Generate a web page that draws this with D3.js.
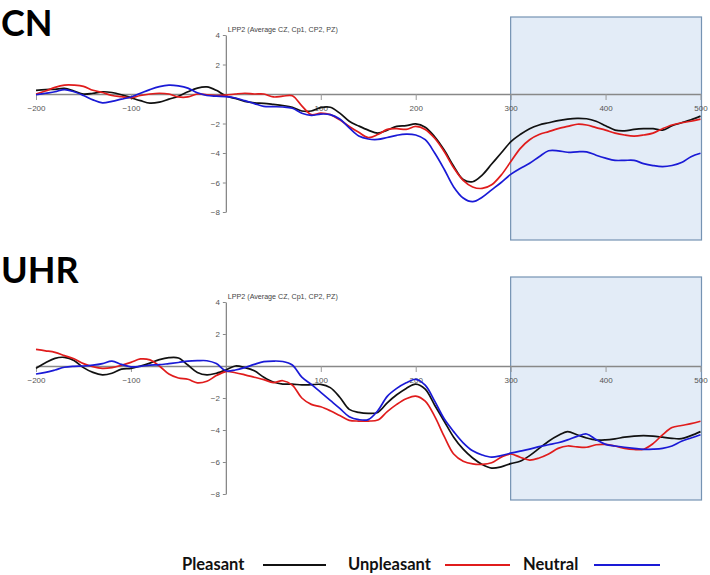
<!DOCTYPE html>
<html><head><meta charset="utf-8">
<script src="https://cdn.jsdelivr.net/npm/d3@7/dist/d3.min.js"></script>
<style>body{margin:0;background:#fff;}svg{display:block;}</style>
</head><body>
<svg id="c" width="710" height="575"></svg>
<script>
const times = d3.range(-200, 501, 10);
const xTicks = [-200, -100, 100, 200, 300, 400, 500];
const yTicks = [4, 2, -2, -4, -6, -8];
const panels = ["CN", "UHR"];
const seriesNames = ["Pleasant", "Unpleasant", "Neutral"];
const axisTitle = "LPP2 (Average CZ, Cp1, CP2, PZ)";

const cnPleasant = [0.25,0.3,0.32,0.38,0.2,0.0,0.05,0.15,0.1,-0.05,-0.25,-0.45,-0.62,-0.55,-0.35,-0.15,0.15,0.4,0.48,0.25,-0.14,-0.3,-0.5,-0.6,-0.63,-0.7,-0.78,-0.9,-1.15,-1.15,-0.92,-0.9,-1.3,-1.85,-2.17,-2.45,-2.65,-2.45,-2.2,-2.15,-2.03,-2.25,-2.9,-3.8,-4.9,-5.8,-5.95,-5.5,-4.75,-4.0,-3.25,-2.75,-2.35,-2.1,-1.95,-1.8,-1.7,-1.65,-1.68,-1.85,-2.15,-2.45,-2.5,-2.4,-2.35,-2.35,-2.45,-2.15,-1.95,-1.75,-1.5];
const cnUnpleasant = [0.0,0.2,0.45,0.6,0.6,0.52,0.25,0.1,-0.1,-0.18,-0.25,-0.1,0.0,0.05,0.0,-0.2,-0.2,0.0,-0.05,-0.1,-0.07,0.0,0.05,0.0,0.0,-0.2,-0.15,-0.12,-0.8,-1.4,-1.3,-1.4,-1.75,-2.2,-2.6,-2.95,-2.75,-2.4,-2.35,-2.4,-2.2,-2.4,-3.0,-3.9,-5.0,-5.85,-6.3,-6.4,-6.15,-5.5,-4.6,-3.7,-3.1,-2.75,-2.55,-2.35,-2.2,-2.05,-2.1,-2.28,-2.45,-2.65,-2.78,-2.85,-2.78,-2.65,-2.35,-2.1,-1.95,-1.85,-1.7];
const cnNeutral = [-0.05,0.05,0.15,0.3,0.15,-0.1,-0.4,-0.6,-0.5,-0.35,-0.2,0.05,0.3,0.5,0.6,0.55,0.4,0.08,-0.1,-0.15,-0.18,-0.27,-0.45,-0.65,-0.84,-0.86,-0.88,-0.97,-1.3,-1.45,-1.36,-1.4,-1.7,-2.3,-2.85,-3.05,-3.08,-2.95,-2.8,-2.72,-2.78,-3.1,-4.0,-5.1,-6.3,-7.05,-7.3,-7.0,-6.5,-6.0,-5.45,-5.05,-4.7,-4.25,-3.85,-3.85,-3.95,-3.92,-3.92,-4.15,-4.35,-4.5,-4.5,-4.5,-4.72,-4.85,-4.92,-4.85,-4.65,-4.25,-4.02];

const uhrPleasant = [-0.15,0.2,0.48,0.54,0.35,-0.1,-0.4,-0.55,-0.45,-0.2,-0.15,0.0,0.18,0.4,0.52,0.5,0.06,-0.4,-0.55,-0.45,-0.25,0.0,-0.1,-0.3,-0.7,-1.0,-1.13,-1.13,-1.18,-1.17,-1.15,-1.35,-1.95,-2.71,-2.9,-2.96,-2.9,-2.3,-1.8,-1.4,-1.13,-1.45,-2.45,-3.45,-4.45,-5.2,-5.75,-6.15,-6.38,-6.3,-6.1,-5.95,-5.6,-5.15,-4.7,-4.35,-4.1,-4.3,-4.5,-4.63,-4.62,-4.55,-4.45,-4.38,-4.35,-4.38,-4.45,-4.52,-4.54,-4.35,-4.1];
const uhrUnpleasant = [1.04,0.95,0.85,0.65,0.45,0.15,-0.05,-0.15,-0.1,0.05,0.23,0.44,0.38,0.0,-0.5,-0.75,-0.83,-1.05,-0.95,-0.6,-0.35,-0.42,-0.55,-0.7,-0.85,-1.04,-0.92,-1.19,-2.0,-2.4,-2.55,-2.8,-3.1,-3.4,-3.44,-3.44,-3.38,-2.85,-2.4,-2.05,-1.88,-2.2,-3.15,-4.4,-5.5,-5.95,-6.12,-6.15,-6.05,-5.7,-5.5,-5.7,-5.88,-5.75,-5.5,-5.15,-5.0,-5.06,-5.08,-4.92,-4.9,-5.0,-5.15,-5.22,-5.2,-4.85,-4.3,-3.85,-3.72,-3.6,-3.45];
const uhrNeutral = [-0.5,-0.4,-0.25,-0.08,-0.02,0.0,0.05,0.15,0.31,0.1,-0.05,-0.02,0.05,0.08,0.15,0.22,0.3,0.33,0.33,0.15,-0.3,-0.25,-0.1,0.1,0.27,0.31,0.28,0.06,-0.7,-1.15,-1.65,-2.15,-2.65,-3.17,-3.35,-3.35,-2.8,-1.9,-1.4,-1.05,-0.83,-1.2,-2.2,-3.3,-4.1,-4.8,-5.3,-5.56,-5.7,-5.6,-5.45,-5.32,-5.2,-5.04,-4.92,-4.8,-4.62,-4.4,-4.25,-4.6,-4.9,-5.0,-5.08,-5.15,-5.21,-5.2,-5.15,-5.0,-4.7,-4.5,-4.3];

const windowStart = 300, windowEnd = 500;
const colors = ["#111111", "#e01c1c", "#1a1ad6"];

const svg = d3.select("#c");
const x = d3.scaleLinear().domain([-200, 500]).range([36, 700.5]);

const layouts = [
  {title: panels[0], titleY: 36, yTop: 35, yBot: 212, boxTop: 17, boxBot: 240, data: [cnPleasant, cnUnpleasant, cnNeutral]},
  {title: panels[1], titleY: 283, yTop: 302, yBot: 494, boxTop: 277, boxBot: 500, data: [uhrPleasant, uhrUnpleasant, uhrNeutral]}
];

layouts.forEach(L => {
  const y = d3.scaleLinear().domain([4, -8]).range([L.yTop, L.yBot]);
  const g = svg.append("g");
  g.append("text").attr("x", 1).attr("y", L.titleY).text(L.title)
    .attr("font-family", "Lato, 'Open Sans', sans-serif").attr("font-weight", "bold")
    .attr("font-size", 36).attr("fill", "#000");
  // analysis window
  g.append("rect").attr("x", x(windowStart)).attr("y", L.boxTop)
    .attr("width", x(windowEnd) - x(windowStart) + 1).attr("height", L.boxBot - L.boxTop)
    .attr("fill", "#e3ecf7").attr("stroke", "#7593b3").attr("stroke-width", 1.2);
  // x axis
  const xa = g.append("g").attr("transform", `translate(0,${y(0)})`)
    .call(d3.axisBottom(x).tickValues(xTicks).tickSize(6).tickSizeOuter(0).tickPadding(5).tickFormat(d3.format("d")));
  xa.select(".domain").attr("stroke", "#888").attr("stroke-width", 1.3);
  xa.selectAll(".tick line").attr("stroke", "#999");
  xa.selectAll("text").attr("fill", "#555").attr("font-size", 8).attr("font-family", "'Liberation Sans', Arial, sans-serif");
  // y axis
  const ya = g.append("g").attr("transform", `translate(${x(0)},0)`)
    .call(d3.axisLeft(y).tickValues(yTicks).tickSize(3).tickSizeOuter(0).tickPadding(3).tickFormat(d3.format("d")));
  ya.select(".domain").attr("stroke", "#888").attr("stroke-width", 1.3);
  ya.selectAll(".tick line").attr("stroke", "#888");
  ya.selectAll("text").attr("fill", "#555").attr("font-size", 8).attr("font-family", "'Liberation Sans', Arial, sans-serif");
  g.append("text").attr("x", x(0) + 2).attr("y", L.yTop - 3).text(axisTitle)
    .attr("font-family", "'Liberation Sans', Arial, sans-serif").attr("font-size", 7.5)
    .attr("textLength", 110).attr("lengthAdjust", "spacingAndGlyphs").attr("fill", "#444");
  // lines
  const line = d3.line().x((d, i) => x(times[i])).y(d => y(d)).curve(d3.curveCatmullRom.alpha(0.5));
  L.data.forEach((s, k) => {
    g.append("path").datum(s).attr("d", line).attr("fill", "none")
      .attr("stroke", colors[k]).attr("stroke-width", 1.7).attr("stroke-linejoin", "round");
  });
});

// legend
const legendText = [182, 348, 523];
const legendLine = [[263, 326], [445, 510], [594, 660]];
const legend = svg.append("g");
seriesNames.forEach((n, k) => {
  legend.append("text").attr("x", legendText[k]).attr("y", 570).text(n)
    .attr("font-family", "Lato, 'Open Sans', sans-serif").attr("font-weight", "bold")
    .attr("font-size", 16.5).attr("fill", "#111");
  legend.append("line").attr("x1", legendLine[k][0]).attr("x2", legendLine[k][1])
    .attr("y1", 565).attr("y2", 565).attr("stroke", colors[k]).attr("stroke-width", 2.2);
});
</script>
</body></html>
